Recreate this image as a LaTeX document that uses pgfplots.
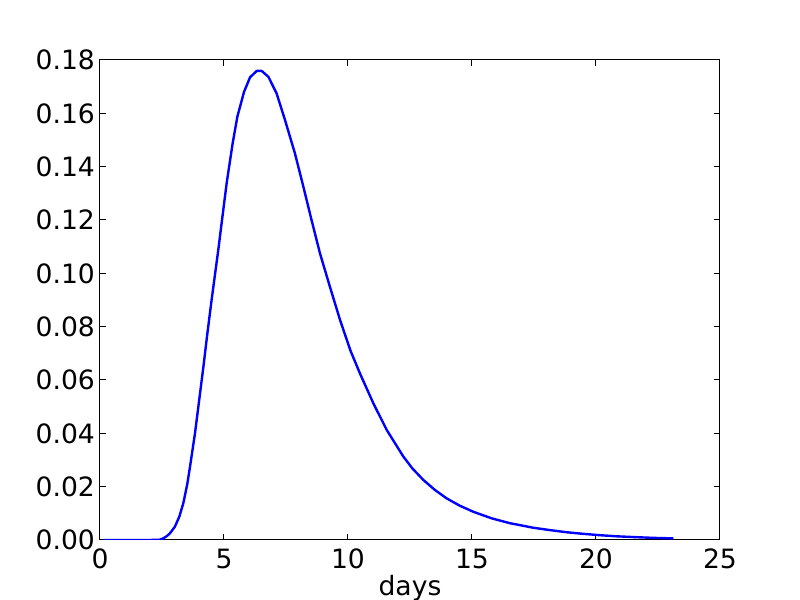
\documentclass[border=0pt]{standalone}
\usepackage{fontspec}
\setmainfont{DejaVu Sans}
\usepackage{pgfplots}
\pgfplotsset{compat=1.18}
\begin{document}
\begin{tikzpicture}
\begin{axis}[
  at={(0,0)}, anchor=south west,
  scale only axis,
  width=310pt, height=240pt,
  xmin=0, xmax=25, ymin=0, ymax=0.18,
  xtick={0,5,10,15,20,25},
  ytick={0,0.02,0.04,0.06,0.08,0.10,0.12,0.14,0.16,0.18},
  scaled y ticks=false,
  yticklabel style={/pgf/number format/fixed,/pgf/number format/fixed zerofill,/pgf/number format/precision=2},
  /pgf/number format/assume math mode=true,
  tick align=inside,
  major tick length=3pt,
  tick style={black, line width=0.5pt},
  axis line style={black, line width=0.5pt},
  ticklabel style={font=\fontsize{13.3}{16}\selectfont},
  label style={font=\fontsize{13.3}{16}\selectfont},
  xlabel={days},
  xlabel style={yshift=4pt},
  xticklabel style={yshift=-1pt},
  yticklabel style={xshift=1pt},
]
\addplot[color={rgb,1:red,0;green,0;blue,1}, line width=1.2pt, line join=round] coordinates {
(0.15,0) (1.0,0) (2.0,0) (2.40,0.0001) (2.55,0.0006) (2.70,0.0015) (2.82,0.0025) (3.02,0.005)
(3.20,0.0088) (3.36,0.0138) (3.52,0.021) (3.63,0.0275) (3.83,0.040)
(4.00,0.0525) (4.17,0.065) (4.33,0.0775) (4.50,0.090) (4.77,0.1088) (4.92,0.12)
(5.11,0.134) (5.35,0.1488) (5.54,0.1588) (5.81,0.1681) (6.05,0.1735) (6.32,0.1759)
(6.52,0.1759) (6.79,0.1737) (7.12,0.1675) (7.46,0.1575) (7.86,0.145) (8.20,0.1325)
(8.53,0.12) (8.87,0.1075) (9.27,0.095) (9.68,0.0825) (10.10,0.071) (10.48,0.0625)
(11.02,0.0513) (11.56,0.0413) (12.23,0.0313) (12.60,0.0268) (13.04,0.0225) (13.50,0.0188)
(13.98,0.0156) (14.50,0.0129) (15.05,0.0106) (15.80,0.0081) (16.53,0.0063) (17.47,0.0046)
(18.15,0.0037) (18.82,0.0029) (19.50,0.0023) (20.16,0.0018) (20.80,0.0014) (21.5,0.0011)
(22.30,0.0008) (23.12,0.0006)
};
\end{axis}
\pgfresetboundingbox
\path[use as bounding box] (-50pt,-30pt) rectangle (350pt,270pt);
\end{tikzpicture}
\end{document}
